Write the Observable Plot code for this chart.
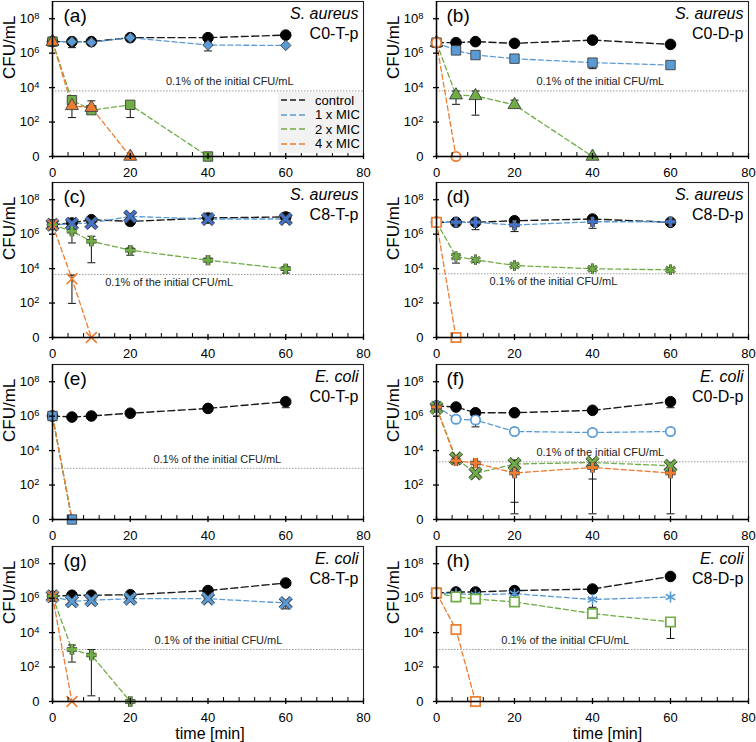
<!DOCTYPE html>
<html>
<head>
<meta charset="utf-8">
<script src="https://cdn.jsdelivr.net/npm/d3@7"></script>
<script src="https://cdn.jsdelivr.net/npm/@observablehq/plot@0.6"></script>
<style>
  html, body { margin: 0; padding: 0; background: #fff; }
  #chart { position: relative; width: 756px; height: 742px; font-family: "Liberation Sans", Arial, sans-serif; }
  #chart svg { position: absolute; }
  .legend { position: absolute; background: #f2f2f2; box-sizing: border-box; padding-top: 1px; }
  .legend .row { display: flex; align-items: center; height: 14.5px; font-size: 13px; color: #000; }
  .legend svg { position: static !important; margin: 0 7px 0 3px; }
</style>
</head>
<body>
<div id="chart"></div>
<script>
// ---------- data (log10 CFU/mL; 0 = no colonies) ----------
const times = [0, 5, 10, 20, 40, 60];
const seriesNames = ["control", "1 x MIC", "2 x MIC", "4 x MIC"];
const yTicks = [0, 2, 4, 6, 8];
const yTickLabels = ["0", "10²", "10⁴", "10⁶", "10⁸"];
const xTicks = [0, 20, 40, 60, 80];
const xMinorTicks = [4, 8, 12, 16, 24, 28, 32, 36, 44, 48, 52, 56, 64, 68, 72, 76];
const thresholdText = "0.1% of the initial CFU/mL";

const panelLetters = ["(a)", "(b)", "(c)", "(d)", "(e)", "(f)", "(g)", "(h)"];
const species = ["S. aureus", "S. aureus", "S. aureus", "S. aureus", "E. coli", "E. coli", "E. coli", "E. coli"];
const codes = ["C0-T-p", "C0-D-p", "C8-T-p", "C8-D-p", "C0-T-p", "C0-D-p", "C8-T-p", "C8-D-p"];
const thresholds = [3.81, 3.81, 3.66, 3.70, 2.97, 3.35, 3.02, 3.02];
const thresholdLabelX = [45.6, 42, 30, 30, 42.4, 42, 42.7, 33];
const thresholdLabelSide = ["above", "above", "below", "below", "above", "above", "above", "above"];

// (a) S. aureus C0-T-p
const a_ctrl = [6.67, 6.67, 6.67, 6.90, 6.90, 7.05];
const a_1x   = [6.67, 6.67, 6.63, 6.90, 6.47, 6.45];
const a_2x   = [6.67, 3.27, 2.69, 3.00, 0, null];
const a_4x   = [6.67, 2.94, 2.84, 0, null, null];
const a_err  = [[5, 6.32, 6.8], [5, 2.26, 3.4], [10, 2.6, 3.23], [20, 2.26, 3.1], [40, 6.13, 6.6]];
// (b) S. aureus C0-D-p
const b_ctrl = [6.61, 6.61, 6.67, 6.57, 6.76, 6.51];
const b_1x   = [6.61, 6.16, 5.89, 5.68, 5.45, 5.31];
const b_2x   = [6.61, 3.56, 3.52, 3.00, 0, null];
const b_4x   = [6.61, 0, null, null, null, null];
const b_err  = [[5, 5.93, 6.3], [5, 3.03, 3.80], [10, 2.40, 3.80], [20, 2.9, 3.27], [40, 5.10, 5.6]];
// (c) S. aureus C8-T-p
const c_ctrl = [6.55, 6.65, 6.84, 6.74, 6.94, 7.00];
const c_1x   = [6.55, 6.60, 6.65, 7.03, 6.88, 6.88];
const c_2x   = [6.55, 6.17, 5.59, 5.07, 4.49, 3.99];
const c_4x   = [6.55, 3.41, 0, null, null, null];
const c_err  = [[5, 5.49, 6.3], [10, 4.34, 5.88], [20, 4.78, 5.2], [40, 4.4, 4.6], [60, 3.74, 4.1], [5, 1.98, 3.62]];
// (d) S. aureus C8-D-p
const d_ctrl = [6.69, 6.69, 6.69, 6.78, 6.88, 6.69];
const d_1x   = [6.69, 6.69, 6.69, 6.53, 6.72, 6.72];
const d_2x   = [6.69, 4.70, 4.51, 4.18, 3.99, 3.93];
const d_4x   = [6.69, 0, null, null, null, null];
const d_err  = [[10, 6.26, 6.8], [20, 6.15, 6.7], [40, 6.34, 6.9], [5, 4.32, 4.8], [10, 4.35, 4.6]];
// (e) E. coli C0-T-p
const e_ctrl = [6.01, 5.95, 6.01, 6.17, 6.45, 6.84];
const e_1x   = [6.01, 0, null, null, null, null];
const e_2x   = [6.01, 0, null, null, null, null];
const e_4x   = [6.01, 0, null, null, null, null];
const e_err  = [[60, 6.49, 6.9]];
// (f) E. coli C0-D-p
const f_ctrl = [6.59, 6.53, 6.20, 6.20, 6.34, 6.84];
const f_1x   = [6.59, 5.82, 5.78, 5.11, 5.05, 5.11];
const f_2x   = [6.49, 3.55, 2.68, 3.22, 3.31, 3.12];
const f_4x   = [6.53, 3.41, 3.28, 2.70, 3.02, 2.70];
const f_err  = [[10, 5.38, 5.9], [60, 6.49, 6.9], [5, 3.3, 3.6], [20, 1.0, 3.45], [20, 0.33, 2.8], [40, 2.35, 3.45], [40, 0.33, 3.1], [60, 0.33, 2.8]];
// (g) E. coli C8-T-p
const g_ctrl = [6.11, 6.17, 6.17, 6.20, 6.44, 6.88];
const g_1x   = [6.11, 5.82, 5.88, 5.97, 5.97, 5.72];
const g_2x   = [6.11, 3.02, 2.70, 0, null, null];
const g_4x   = [6.11, 0, null, null, null, null];
const g_err  = [[5, 2.29, 3.28], [10, 0.33, 3.02], [60, 5.38, 5.8]];
// (h) E. coli C8-D-p
const h_ctrl = [6.30, 6.36, 6.36, 6.44, 6.53, 7.26];
const h_1x   = [6.30, 6.26, 6.20, 6.26, 5.92, 6.07];
const h_2x   = [6.30, 6.07, 5.95, 5.78, 5.11, 4.62];
const h_4x   = [6.30, 4.18, 0, null, null, null];
const h_err  = [[60, 3.66, 4.7], [40, 5.47, 6.0], [5, 4.0, 4.47], [40, 5.0, 5.2]];

const panelValues = [
  [a_ctrl, a_1x, a_2x, a_4x], [b_ctrl, b_1x, b_2x, b_4x],
  [c_ctrl, c_1x, c_2x, c_4x], [d_ctrl, d_1x, d_2x, d_4x],
  [e_ctrl, e_1x, e_2x, e_4x], [f_ctrl, f_1x, f_2x, f_4x],
  [g_ctrl, g_1x, g_2x, g_4x], [h_ctrl, h_1x, h_2x, h_4x]
];
const panelErrors = [a_err, b_err, c_err, d_err, e_err, f_err, g_err, h_err];

// ---------- styles ----------
const BLUE = "#5b9bd5", DBLUE = "#4472c4", GREEN = "#70ad47", ORANGE = "#ed7d31";
const lineColors = ["#1a1a1a", BLUE, GREEN, ORANGE];
const CTRL = {symbol: "circle", r: 5.3, fill: "#000", stroke: "#000", sw: 1};
const filled = (symbol, r, c) => ({symbol, r, fill: c, stroke: "#3c3c3c", sw: 0.9});
const open = (symbol, r, c) => ({symbol, r, fill: "#fff", stroke: c, sw: 1.7});
const thick = (symbol, r, c, sw = 3, ow = 1.6) => ({symbol, r, fill: "none", stroke: c, sw, outline: "#3a3a3a", ow});
const thin = (symbol, r, c) => ({symbol, r, fill: "none", stroke: c, sw: 1.6});
const panelMarkers = [
  [CTRL, filled("diamond2", 4.7, BLUE), filled("square", 5.3, GREEN), filled("triangle", 4.8, ORANGE)],
  [CTRL, filled("square", 5.3, BLUE), filled("triangle", 4.8, GREEN), open("circle", 4.7, ORANGE)],
  [CTRL, thick("times", 5, DBLUE), thick("plus", 3.4, GREEN), thin("times", 5, ORANGE)],
  [CTRL, thick("plus", 3.4, DBLUE), thick("asterisk", 5, GREEN, 2, 1), open("square", 5.3, ORANGE)],
  [CTRL, filled("square", 5.3, BLUE), null, null],
  [CTRL, open("circle", 4.7, BLUE), thick("times", 5, GREEN), thick("plus", 3.4, ORANGE)],
  [CTRL, thick("times", 5, BLUE), thick("plus", 3.4, GREEN), thin("times", 5, ORANGE)],
  [CTRL, thin("asterisk", 5.2, BLUE), open("square", 5.3, GREEN), open("square", 5.3, ORANGE)]
];
const cap = {draw(ctx) { ctx.moveTo(-4, 0); ctx.lineTo(4, 0); }};
const supDigits = {"²": "2", "⁴": "4", "⁶": "6", "⁸": "8"};

const chart = document.getElementById("chart");
const rowTops = [0, 181, 363, 545];

panelValues.forEach((vals, i) => {
  const col = i % 2, row = Math.floor(i / 2);
  const left = col === 0;
  const H = row === 3 ? 197 : 180;
  const mL = left ? 52 : 58, mR = left ? 15 : 8;
  const series = vals.map(v => v.map((y, j) => ({t: times[j], v: y})).filter(d => d.v != null));
  const errs = panelErrors[i].map(([t, lo, hi]) => ({t, lo, hi}));
  const marks = [];

  marks.push(Plot.ruleY([thresholds[i]], {stroke: "#9a9a9a", strokeWidth: 1, strokeDasharray: "1.5,1.5"}));
  marks.push(Plot.text([{x: thresholdLabelX[i], y: thresholds[i], s: thresholdText}],
    {x: "x", y: "y", text: "s", dy: thresholdLabelSide[i] === "above" ? -9 : 8, fontSize: 11, fill: "#222"}));

  series.forEach((s, k) => marks.push(Plot.line(s, {
    x: "t", y: "v", stroke: lineColors[k],
    strokeWidth: k === 0 ? 1.4 : 1.3, strokeDasharray: k === 0 ? "7,3.5" : "5,3"
  })));

  marks.push(Plot.ruleX(errs, {x: "t", y1: "lo", y2: "hi", stroke: "#111", strokeWidth: 1}));
  marks.push(Plot.dot(errs, {x: "t", y: "lo", symbol: cap, r: 4, fill: "none", stroke: "#111", strokeWidth: 1}));
  marks.push(Plot.dot(errs, {x: "t", y: "hi", symbol: cap, r: 4, fill: "none", stroke: "#111", strokeWidth: 1}));

  series.forEach((s, k) => {
    const m = panelMarkers[i][k];
    if (!m) return;
    if (m.outline) marks.push(Plot.dot(s, {x: "t", y: "v", symbol: m.symbol, r: m.r, fill: "none", stroke: m.outline, strokeWidth: m.sw + m.ow}));
    marks.push(Plot.dot(s, {x: "t", y: "v", symbol: m.symbol, r: m.r, fill: m.fill, stroke: m.stroke, strokeWidth: m.sw}));
  });

  marks.push(Plot.frame({stroke: "#222", strokeWidth: 1.1}));
  marks.push(Plot.ruleX([0], {stroke: "#000", strokeWidth: 1.5}));
  marks.push(Plot.ruleY([0], {stroke: "#000", strokeWidth: 1.5}));
  marks.push(Plot.axisX({ticks: xTicks, tickSize: 6, dy: -3, tickPadding: 8, fontSize: 13, strokeWidth: 1.3, tickFormat: d => String(d), label: null}));
  marks.push(Plot.axisX({ticks: xMinorTicks, tickSize: 4, dy: -4, fill: "none", tickFormat: () => "", strokeWidth: 1, label: null}));
  marks.push(Plot.axisY({ticks: yTicks, tickSize: 6, dx: 3, tickPadding: 10, fontSize: 13, strokeWidth: 1.3,
    tickFormat: d => yTickLabels[yTicks.indexOf(d)], label: null}));

  marks.push(Plot.text(["CFU/mL"], {text: d => d, frameAnchor: "left", lineAnchor: "middle", rotate: -90, dx: -43, fontSize: 17, fill: "#000"}));
  marks.push(Plot.text([panelLetters[i]], {text: d => d, frameAnchor: "top-left", lineAnchor: "middle", textAnchor: "start", dx: left ? 11 : 10, dy: 14, fontSize: 19, fill: "#000"}));
  marks.push(Plot.text([species[i]], {text: d => d, frameAnchor: "top-right", lineAnchor: "middle", textAnchor: "end", dx: -5, dy: 12, fontSize: 16, fontStyle: "italic", fill: "#000"}));
  marks.push(Plot.text([codes[i]], {text: d => d, frameAnchor: "top-right", lineAnchor: "middle", textAnchor: "end", dx: -5, dy: 32, fontSize: 16, fill: "#000"}));
  if (row === 3) {
    marks.push(Plot.text(["time [min]"], {text: d => d, frameAnchor: "bottom", lineAnchor: "middle", dy: 32, dx: left ? 2 : 15, fontSize: 16, fill: "#000"}));
  }

  const svg = Plot.plot({
    width: 378, height: H,
    marginTop: 1, marginBottom: H - 156, marginLeft: mL, marginRight: mR,
    x: {domain: [0, 80], label: null},
    y: {domain: [0, 9], label: null},
    style: {fontFamily: "'Liberation Sans', Arial, sans-serif", background: "transparent", overflow: "visible", color: "#000"},
    marks
  });
  svg.style.left = (col * 378) + "px";
  svg.style.top = rowTops[row] + "px";

  // superscript exponents in y tick labels
  d3.select(svg).selectAll('g[aria-label="y-axis tick label"] text').each(function() {
    const t = this.textContent;
    const m = t.match(/^10(.)$/);
    if (m && supDigits[m[1]]) {
      const sel = d3.select(this);
      sel.text(null);
      sel.append("tspan").text("10");
      sel.append("tspan").attr("dy", "-0.45em").attr("font-size", "0.72em").text(supDigits[m[1]]);
    }
  });
  chart.appendChild(svg);
});

// legend in panel (a)
const legend = document.createElement("div");
legend.className = "legend";
legend.style.left = "278px";
legend.style.top = "92px";
legend.style.width = "84px";
legend.style.height = "61px";
seriesNames.forEach((name, k) => {
  const row = document.createElement("div");
  row.className = "row";
  row.innerHTML = `<svg width="27" height="6"><line x1="0" y1="3" x2="27" y2="3" stroke="${lineColors[k]}" stroke-width="1.6" stroke-dasharray="6,3"/></svg><span>${name}</span>`;
  legend.appendChild(row);
});
chart.appendChild(legend);
</script>
</body>
</html>
